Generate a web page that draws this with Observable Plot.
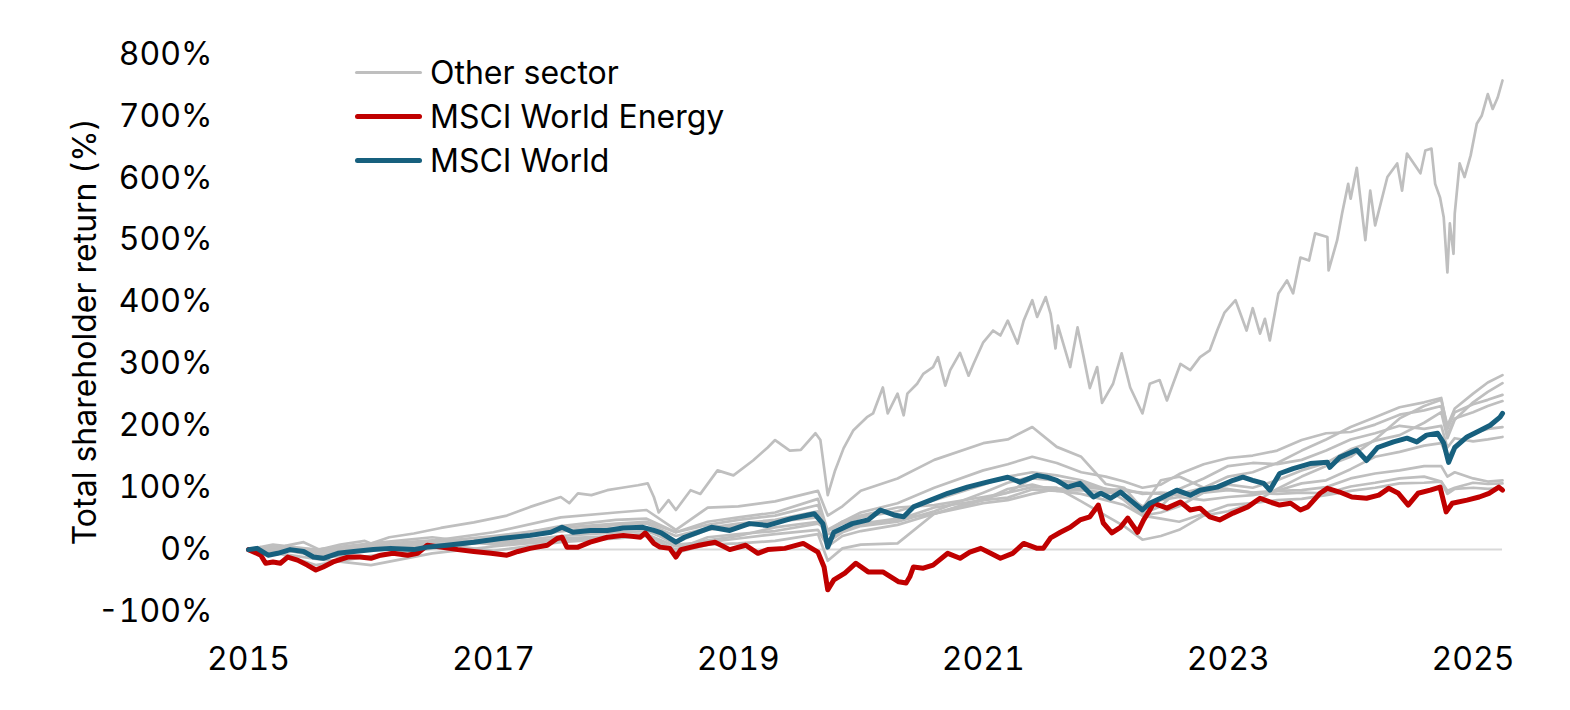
<!DOCTYPE html>
<html><head><meta charset="utf-8">
<script src="https://cdn.jsdelivr.net/npm/d3@7"></script>
<script src="https://cdn.jsdelivr.net/npm/@observablehq/plot@0.6"></script>
<style>
html,body{margin:0;padding:0;background:#fff;}
#wrap{position:relative;width:1570px;height:710px;font-family:Inter,"Liberation Sans",Arial,sans-serif;color:#000;}
#legend{position:absolute;left:355px;top:50px;font-size:32px;}
.row{display:flex;align-items:center;height:44px;white-space:nowrap;}
.sw{width:67px;border-radius:3px;margin-right:8px;}
#ytitle{position:absolute;left:84px;top:332px;transform:translate(-50%,-50%) rotate(-90deg);white-space:nowrap;font-size:32px;}
</style></head>
<body><div id="wrap"><div id="chart"></div><div id="legend"></div><div id="ytitle">Total shareholder return (%)</div></div>
<script>
// ---------- data ----------
const xTicks = [2015, 2017, 2019, 2021, 2023, 2025];
const yTicks = [-100, 0, 100, 200, 300, 400, 500, 600, 700, 800];
const endYear = 2025.24;

const legendLabels = ["Other sector", "MSCI World Energy", "MSCI World"];
const legendColors = ["#bfbfbf", "#c00000", "#17607e"];

// other sectors (grey), shared time grid (axis years)
const grayTimes = [2015.00,2015.20,2015.55,2016.00,2016.50,2017.00,2017.55,2018.00,2018.25,2018.49,2018.75,2019.00,2019.30,2019.65,2019.73,2019.85,2020.00,2020.30,2020.60,2021.00,2021.20,2021.40,2021.60,2021.80,2022.00,2022.15,2022.30,2022.45,2022.60,2022.80,2023.00,2023.20,2023.40,2023.60,2023.80,2024.00,2024.20,2024.40,2024.60,2024.74,2024.79,2024.85,2025.00,2025.12,2025.24];
const sectorA = [0,-5,-15,-25,-6,5,15,22,25,-5,8,10,14,25,-18,2,8,10,58,82,92,101,100,78,55,38,16,22,32,55,62,75,98,118,135,150,178,212,232,242,200,228,252,270,282];
const sectorB = [0,3,-10,-12,2,15,30,40,42,22,35,42,48,62,12,28,38,45,62,92,108,118,112,105,98,80,55,60,70,92,105,100,112,128,140,162,176,185,205,222,180,210,238,255,269];
const sectorC = [0,6,-3,5,14,28,52,60,64,32,68,70,78,95,55,70,95,115,145,172,178,198,166,150,106,100,66,112,118,100,118,125,140,160,178,198,214,230,238,245,195,222,235,242,250];
const sectorD = [0,2,-8,0,8,18,38,48,50,28,45,52,60,82,30,45,60,75,100,128,138,150,140,125,118,110,100,105,122,138,148,152,160,177,188,190,202,218,225,232,185,212,222,232,240];
const sectorE = [0,0,-5,8,15,10,22,28,30,12,32,38,45,52,15,30,40,48,68,80,84,97,95,96,92,90,70,80,85,80,85,88,95,107,112,130,150,158,168,172,150,165,188,195,198];
const sectorF = [0,4,-5,5,12,22,35,42,45,28,40,48,55,72,30,42,52,62,80,105,118,125,120,112,98,88,58,70,98,115,135,140,138,145,160,178,188,200,195,200,165,180,175,178,182];
const sectorG = [0,5,0,10,20,8,18,22,25,5,15,22,36,45,25,32,42,50,58,75,80,90,98,100,98,95,92,90,88,92,96,92,95,96,101,115,123,128,135,135,118,125,115,110,112];
const sectorH = [0,8,0,5,10,-2,12,18,22,0,20,25,30,42,32,45,55,68,72,85,92,115,112,108,95,98,90,92,90,100,98,92,90,92,91,102,108,115,118,110,95,100,108,106,107];
const sectorJ = [0,-3,-25,-10,5,12,30,35,33,8,12,18,25,32,5,22,30,40,58,80,98,105,95,90,80,72,55,50,45,58,72,75,80,82,88,95,100,107,108,110,90,98,100,98,99];

// top grey sector (finer detail)
const itYears = [2015.00,2015.10,2015.17,2015.30,2015.45,2015.58,2015.75,2015.95,2016.00,2016.15,2016.35,2016.57,2016.84,2017.11,2017.30,2017.55,2017.62,2017.69,2017.80,2017.93,2018.05,2018.18,2018.26,2018.31,2018.35,2018.43,2018.49,2018.61,2018.69,2018.83,2018.96,2019.12,2019.24,2019.30,2019.42,2019.51,2019.63,2019.67,2019.73,2019.79,2019.86,2019.94,2020.05,2020.10,2020.18,2020.22,2020.30,2020.35,2020.38,2020.46,2020.51,2020.59,2020.63,2020.69,2020.73,2020.81,2020.88,2020.92,2021.00,2021.08,2021.14,2021.20,2021.28,2021.33,2021.40,2021.44,2021.51,2021.55,2021.59,2021.61,2021.71,2021.77,2021.82,2021.87,2021.93,2021.97,2022.06,2022.13,2022.20,2022.30,2022.36,2022.44,2022.50,2022.55,2022.61,2022.69,2022.77,2022.85,2022.91,2022.97,2023.06,2023.15,2023.20,2023.26,2023.30,2023.34,2023.41,2023.48,2023.53,2023.59,2023.66,2023.71,2023.81,2023.82,2023.89,2023.93,2023.98,2024.00,2024.05,2024.12,2024.16,2024.20,2024.30,2024.38,2024.42,2024.46,2024.57,2024.61,2024.66,2024.69,2024.73,2024.76,2024.79,2024.81,2024.84,2024.85,2024.89,2024.93,2024.98,2025.03,2025.07,2025.12,2025.16,2025.20,2025.24];
const itValues = [0,4,-4,6,12,0,8,14,10,20,26,35,44,55,69,85,75,91,88,96,100,104,107,85,60,80,64,96,90,128,120,144,165,177,160,161,188,177,88,128,164,193,214,220,262,220,252,217,252,268,284,295,311,265,290,318,281,300,335,354,346,370,333,370,403,376,408,381,325,362,295,359,311,261,295,237,268,317,262,220,268,274,241,268,300,290,311,322,354,383,403,354,390,349,373,338,414,435,414,472,467,511,505,451,500,543,591,567,617,500,580,524,602,624,580,640,608,645,648,591,569,537,448,527,478,543,624,602,637,688,701,736,712,730,758];

// MSCI World Energy
const energyYears = [2015.00,2015.10,2015.14,2015.20,2015.26,2015.32,2015.40,2015.48,2015.55,2015.61,2015.69,2015.81,2015.91,2016.00,2016.08,2016.18,2016.30,2016.38,2016.46,2016.57,2016.71,2016.84,2016.98,2017.11,2017.20,2017.30,2017.44,2017.52,2017.56,2017.60,2017.69,2017.79,2017.93,2018.06,2018.20,2018.24,2018.31,2018.36,2018.44,2018.49,2018.53,2018.68,2018.81,2018.93,2019.06,2019.16,2019.24,2019.38,2019.53,2019.65,2019.70,2019.73,2019.78,2019.87,2019.96,2020.06,2020.18,2020.31,2020.37,2020.40,2020.43,2020.51,2020.59,2020.71,2020.81,2020.89,2020.98,2021.06,2021.14,2021.24,2021.33,2021.44,2021.49,2021.55,2021.63,2021.71,2021.79,2021.87,2021.94,2021.98,2022.05,2022.12,2022.18,2022.26,2022.31,2022.36,2022.39,2022.50,2022.61,2022.69,2022.77,2022.85,2022.93,2023.04,2023.16,2023.26,2023.34,2023.42,2023.51,2023.59,2023.65,2023.75,2023.81,2023.91,2024.01,2024.13,2024.23,2024.31,2024.39,2024.47,2024.55,2024.65,2024.73,2024.78,2024.83,2024.95,2025.05,2025.13,2025.21,2025.24];
const energyValues = [0,-9,-22,-20,-22,-12,-17,-25,-33,-28,-20,-12,-12,-14,-9,-6,-9,-6,7,4,0,-3,-6,-9,-3,2,7,18,20,4,4,12,20,23,20,27,10,4,2,-12,0,7,12,0,7,-6,0,2,10,-4,-28,-65,-49,-38,-22,-36,-36,-52,-54,-44,-28,-30,-25,-6,-14,-4,2,-6,-14,-6,10,2,2,19,28,36,48,53,72,43,27,36,51,28,48,64,75,67,77,64,67,53,48,59,69,83,77,72,75,64,69,91,99,93,85,83,88,99,91,72,91,96,101,61,75,80,85,91,101,96];

// MSCI World
const worldYears = [2015.00,2015.07,2015.16,2015.24,2015.34,2015.45,2015.53,2015.61,2015.73,2015.86,2016.02,2016.16,2016.35,2016.46,2016.62,2016.84,2017.06,2017.30,2017.47,2017.56,2017.65,2017.79,2017.93,2018.06,2018.22,2018.31,2018.37,2018.49,2018.56,2018.78,2018.93,2019.09,2019.24,2019.43,2019.62,2019.69,2019.73,2019.78,2019.93,2020.06,2020.16,2020.27,2020.35,2020.43,2020.57,2020.71,2020.87,2021.03,2021.20,2021.30,2021.44,2021.52,2021.60,2021.69,2021.79,2021.90,2021.96,2022.04,2022.12,2022.20,2022.30,2022.36,2022.47,2022.58,2022.69,2022.77,2022.91,2023.04,2023.12,2023.20,2023.29,2023.34,2023.42,2023.53,2023.67,2023.81,2023.83,2023.91,2024.05,2024.13,2024.22,2024.35,2024.46,2024.54,2024.62,2024.71,2024.76,2024.80,2024.85,2024.95,2025.06,2025.14,2025.22,2025.24];
const worldValues = [0,2,-9,-6,0,-3,-12,-14,-6,-3,0,2,0,4,7,12,18,23,28,36,28,31,31,35,36,31,27,12,20,36,31,42,39,50,58,42,4,28,42,48,64,56,53,69,80,91,101,109,117,109,120,117,112,101,107,85,91,83,93,80,64,75,85,96,88,96,101,112,117,112,107,96,123,131,139,141,133,149,161,144,165,174,180,174,185,188,172,141,165,182,193,201,214,220];

// ---------- tables ----------
const otherSectors = [sectorA, sectorB, sectorC, sectorD, sectorE, sectorF, sectorG, sectorH, sectorJ];
const grayRows = [];
otherSectors.forEach((vals, k) => vals.forEach((v, i) => grayRows.push({t: grayTimes[i], v, s: "s" + k})));
itYears.forEach((t, i) => grayRows.push({t, v: itValues[i], s: "it"}));
const energyRows = energyYears.map((t, i) => ({t, v: energyValues[i]}));
const worldRows = worldYears.map((t, i) => ({t, v: worldValues[i]}));

const font = 'Inter, "Liberation Sans", Arial, sans-serif';
const chart = Plot.plot({
  width: 1570, height: 710,
  marginLeft: 248, marginRight: 68, marginTop: 54, marginBottom: 99,
  style: {fontFamily: font, fontSize: "32px", color: "#000", background: "#fff", overflow: "visible"},
  x: {type: "linear", domain: [2015, endYear], ticks: xTicks, tickFormat: d => String(d), tickSize: 0, tickPadding: 36, label: null},
  y: {domain: [-100, 800], ticks: yTicks, tickFormat: d => d + "%", tickSize: 0, tickPadding: 36, label: null},
  marks: [
    Plot.ruleY([0], {stroke: "#d9d9d9", strokeWidth: 2}),
    Plot.line(grayRows, {x: "t", y: "v", z: "s", stroke: legendColors[0], strokeWidth: 2.7}),
    Plot.line(energyRows, {x: "t", y: "v", stroke: legendColors[1], strokeWidth: 5}),
    Plot.line(worldRows, {x: "t", y: "v", stroke: legendColors[2], strokeWidth: 5})
  ]
});
document.getElementById("chart").appendChild(chart);

const lg = document.getElementById("legend");
const swH = [3, 5, 5];
legendLabels.forEach((lab, i) => {
  const r = document.createElement("div"); r.className = "row";
  const s = document.createElement("div"); s.className = "sw";
  s.style.height = swH[i] + "px"; s.style.background = legendColors[i];
  const t = document.createElement("span"); t.textContent = lab;
  r.appendChild(s); r.appendChild(t); lg.appendChild(r);
});
</script>
</body></html>
